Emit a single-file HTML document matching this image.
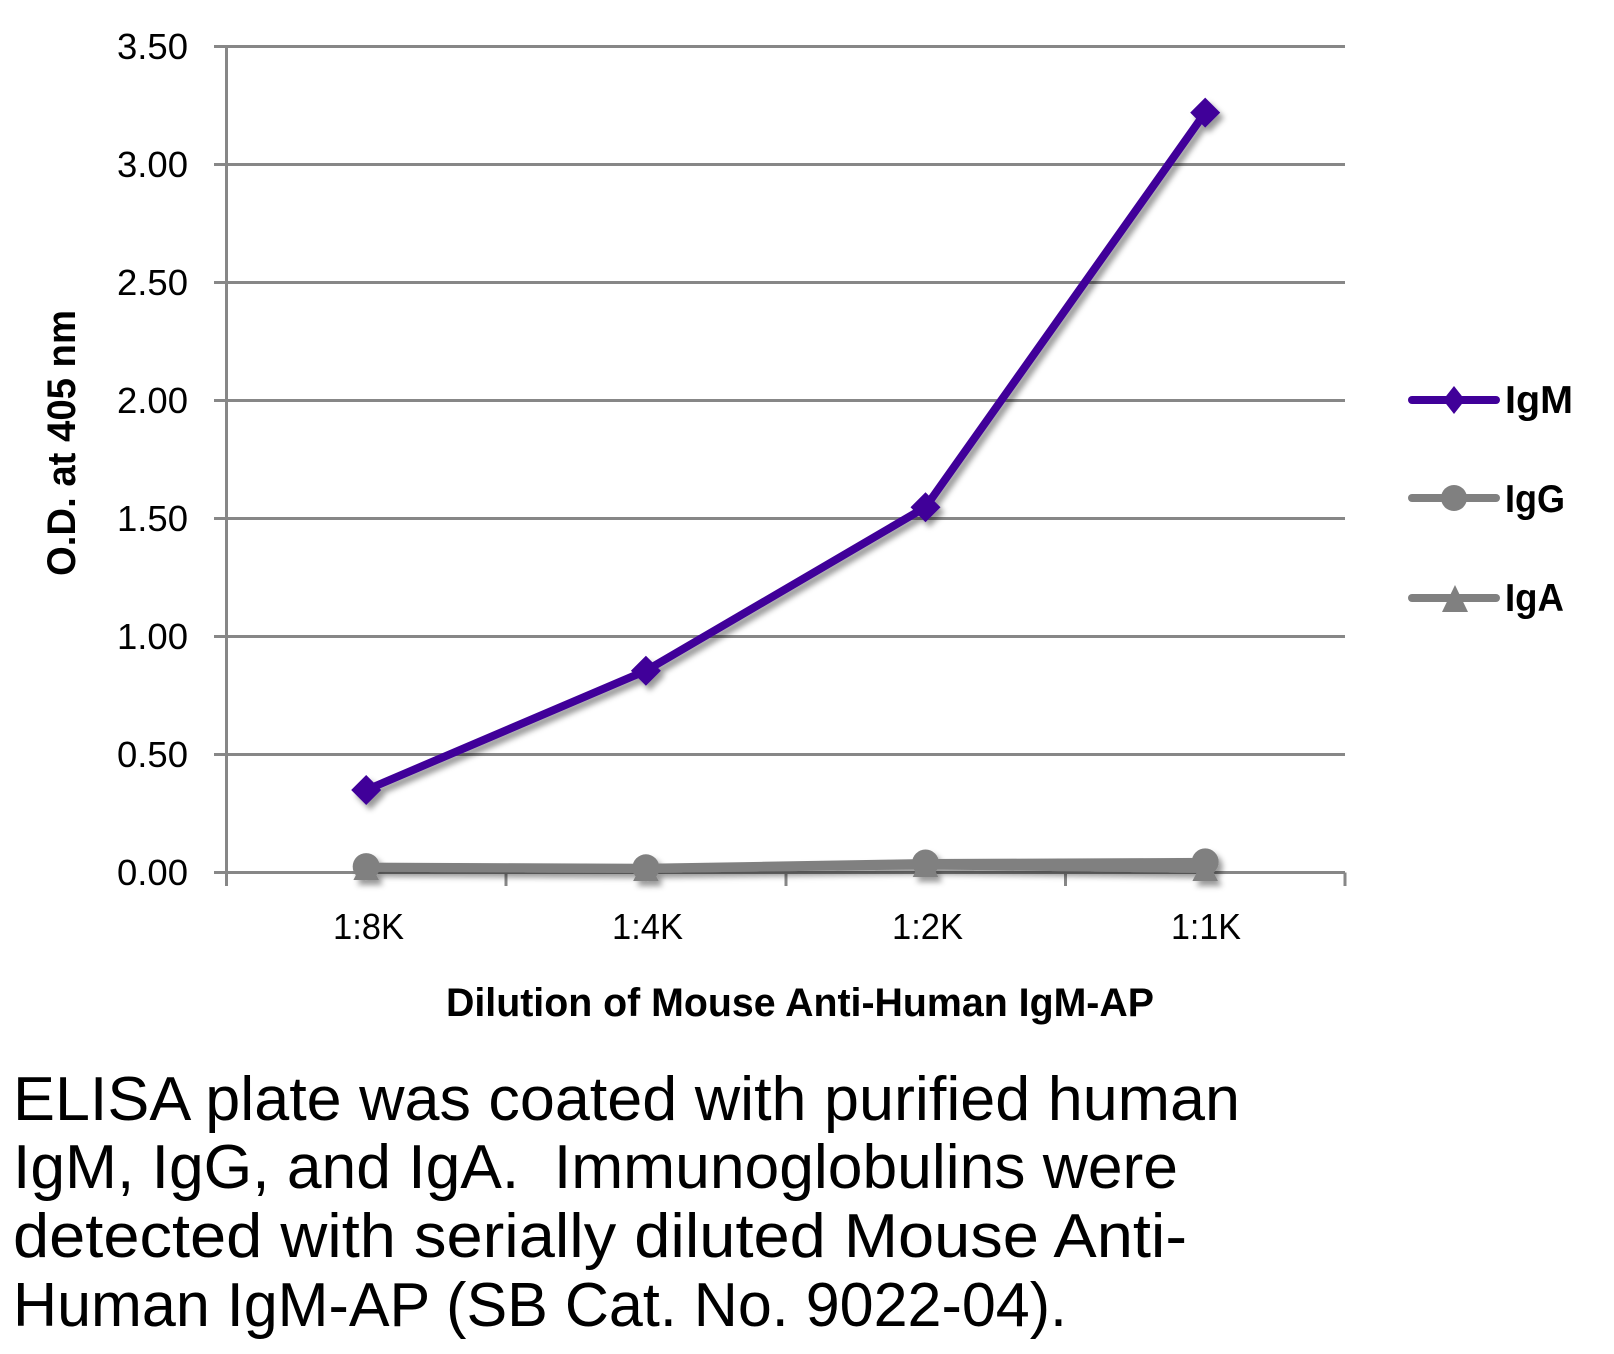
<!DOCTYPE html>
<html>
<head>
<meta charset="utf-8">
<style>
  html, body { margin: 0; padding: 0; background: #ffffff; }
  body { width: 1614px; height: 1354px; overflow: hidden; }
  svg { display: block; }
  text { font-family: "Liberation Sans", Arial, sans-serif; fill: #000; }
</style>
</head>
<body>
<svg width="1614" height="1354" viewBox="0 0 1614 1354" xmlns="http://www.w3.org/2000/svg">
  <defs>
    <filter id="sh" filterUnits="userSpaceOnUse" x="0" y="0" width="1614" height="1354">
      <feDropShadow dx="4" dy="5" stdDeviation="3" flood-color="#000" flood-opacity="0.4"/>
    </filter>
  </defs>
  <rect width="1614" height="1354" fill="#fff"/>

  <!-- gridlines -->
  <g stroke="#878787" stroke-width="3" fill="none">
    <line x1="214" y1="46.5" x2="1345" y2="46.5"/>
    <line x1="214" y1="164.5" x2="1345" y2="164.5"/>
    <line x1="214" y1="282.5" x2="1345" y2="282.5"/>
    <line x1="214" y1="400.5" x2="1345" y2="400.5"/>
    <line x1="214" y1="518.5" x2="1345" y2="518.5"/>
    <line x1="214" y1="636.5" x2="1345" y2="636.5"/>
    <line x1="214" y1="754.5" x2="1345" y2="754.5"/>
    <line x1="214" y1="872.5" x2="1345" y2="872.5"/>
    <!-- y axis -->
    <line x1="226.5" y1="46.5" x2="226.5" y2="886"/>
    <!-- x ticks -->
    <line x1="506" y1="872.5" x2="506" y2="886"/>
    <line x1="786" y1="872.5" x2="786" y2="886"/>
    <line x1="1065.5" y1="872.5" x2="1065.5" y2="886"/>
    <line x1="1345" y1="872.5" x2="1345" y2="886"/>
  </g>

  <!-- y tick labels -->
  <g font-size="36">
    <text x="117" y="59" textLength="71" lengthAdjust="spacingAndGlyphs">3.50</text>
    <text x="117" y="177" textLength="71" lengthAdjust="spacingAndGlyphs">3.00</text>
    <text x="117" y="295" textLength="71" lengthAdjust="spacingAndGlyphs">2.50</text>
    <text x="117" y="413" textLength="71" lengthAdjust="spacingAndGlyphs">2.00</text>
    <text x="117" y="531" textLength="71" lengthAdjust="spacingAndGlyphs">1.50</text>
    <text x="117" y="649" textLength="71" lengthAdjust="spacingAndGlyphs">1.00</text>
    <text x="117" y="767" textLength="71" lengthAdjust="spacingAndGlyphs">0.50</text>
    <text x="117" y="885" textLength="71" lengthAdjust="spacingAndGlyphs">0.00</text>
  </g>

  <!-- x tick labels -->
  <g font-size="36">
    <text x="333" y="939" textLength="71" lengthAdjust="spacingAndGlyphs">1:8K</text>
    <text x="612" y="939" textLength="71" lengthAdjust="spacingAndGlyphs">1:4K</text>
    <text x="892" y="939" textLength="71" lengthAdjust="spacingAndGlyphs">1:2K</text>
    <text x="1171" y="939" textLength="70" lengthAdjust="spacingAndGlyphs">1:1K</text>
  </g>

  <!-- axis titles -->
  <text x="446" y="1016" font-size="40" font-weight="bold" textLength="708" lengthAdjust="spacingAndGlyphs">Dilution of Mouse Anti-Human IgM-AP</text>
  <text transform="translate(75,443) rotate(-90)" x="0" y="0" text-anchor="middle" font-size="40" font-weight="bold" textLength="266" lengthAdjust="spacingAndGlyphs">O.D. at 405 nm</text>

  <!-- series -->
  <g filter="url(#sh)">
    <!-- IgA -->
    <polyline points="366.2,867.8 645.9,869 925.5,865.4 1205.2,869" fill="none" stroke="#808080" stroke-width="8" stroke-linejoin="round" stroke-linecap="round"/>
    <g fill="#808080">
      <polygon points="366.2,855 379,880 353.4,880"/>
      <polygon points="645.9,856 658.7,881 633.1,881"/>
      <polygon points="925.5,852 938.3,877 912.7,877"/>
      <polygon points="1205.2,856 1218,881 1192.4,881"/>
    </g>
    <!-- IgG -->
    <polyline points="366.2,866.6 645.9,867.8 925.5,863 1205.2,861.9" fill="none" stroke="#808080" stroke-width="8" stroke-linejoin="round" stroke-linecap="round"/>
    <g fill="#808080">
      <circle cx="366.2" cy="866.6" r="13.5"/>
      <circle cx="645.9" cy="867.8" r="13.5"/>
      <circle cx="925.5" cy="863" r="13.5"/>
      <circle cx="1205.2" cy="861.9" r="13.5"/>
    </g>
    <!-- IgM -->
    <polyline points="366.2,790 645.9,670.7 925.5,507.2 1205.2,112.6" fill="none" stroke="#400099" stroke-width="8" stroke-linejoin="round" stroke-linecap="round"/>
    <g fill="#400099">
      <polygon points="366.2,775 381.2,790 366.2,805 351.2,790"/>
      <polygon points="645.9,655.7 660.9,670.7 645.9,685.7 630.9,670.7"/>
      <polygon points="925.5,492.2 940.5,507.2 925.5,522.2 910.5,507.2"/>
      <polygon points="1205.2,97.6 1220.2,112.6 1205.2,127.6 1190.2,112.6"/>
    </g>
  </g>

  <!-- legend -->
  <g stroke-linecap="round" stroke-width="8">
    <line x1="1412" y1="400" x2="1496" y2="400" stroke="#400099"/>
    <line x1="1412" y1="498" x2="1496" y2="498" stroke="#808080"/>
    <line x1="1412" y1="598" x2="1496" y2="598" stroke="#808080"/>
  </g>
  <polygon points="1454,386 1465,400 1454,414 1443,400" fill="#400099"/>
  <circle cx="1454" cy="498" r="13" fill="#808080"/>
  <polygon points="1455,585 1468,612 1442,612" fill="#808080"/>
  <g font-size="39" font-weight="bold">
    <text x="1505" y="413" textLength="68" lengthAdjust="spacingAndGlyphs">IgM</text>
    <text x="1505" y="512" textLength="60" lengthAdjust="spacingAndGlyphs">IgG</text>
    <text x="1505" y="611" textLength="59" lengthAdjust="spacingAndGlyphs">IgA</text>
  </g>

  <!-- caption -->
  <g font-size="62">
    <text x="13" y="1120" textLength="1227" lengthAdjust="spacingAndGlyphs">ELISA plate was coated with purified human</text>
    <text x="13" y="1188" textLength="1165" lengthAdjust="spacingAndGlyphs">IgM, IgG, and IgA.&#160; Immunoglobulins were</text>
    <text x="13" y="1257" textLength="1174" lengthAdjust="spacingAndGlyphs">detected with serially diluted Mouse Anti-</text>
    <text x="13" y="1326" textLength="1054" lengthAdjust="spacingAndGlyphs">Human IgM-AP (SB Cat. No. 9022-04).</text>
  </g>
</svg>
</body>
</html>
